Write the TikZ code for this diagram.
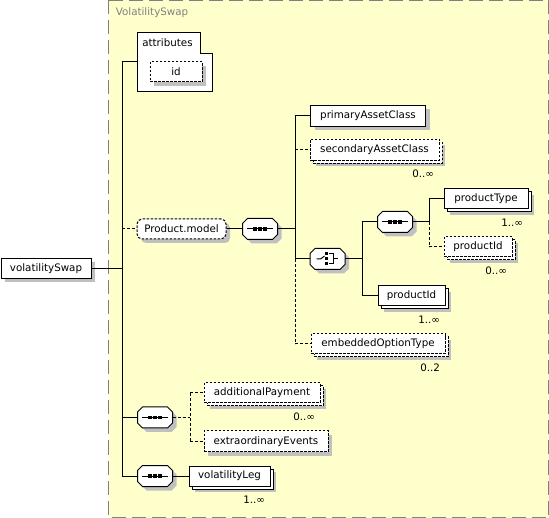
\documentclass[tikz,border=0pt]{standalone}
\usepackage{fontspec}
\setmainfont{DejaVu Sans}
\usepackage{tikz}
\usetikzlibrary{shadows}
\usetikzlibrary{calc}
\definecolor{bgyellow}{HTML}{FFFFCC}
\definecolor{framegray}{HTML}{808080}
\definecolor{shadowgray}{HTML}{C0C0C0}
\newcommand{\octpath}[1]{($(#1.north west)+(5,0)$) -- ($(#1.north east)+(-5,0)$) -- ($(#1.north east)+(0,5)$)
        -- ($(#1.south east)+(0,-5)$) -- ($(#1.south east)+(-5,0)$) -- ($(#1.south west)+(5,0)$)
        -- ($(#1.south west)+(0,-5)$) -- ($(#1.north west)+(0,5)$) -- cycle}

\begin{document}
\begin{tikzpicture}[x=1pt,y=-1pt,line width=1pt,font=\fontsize{10.3}{12}\selectfont]%%volatilitySwap

                \tikzstyle{elem}   = [rectangle, draw, fill=white, minimum height=20pt, inner sep=0pt]
                \tikzstyle{opt}    = [dash pattern=on 2.5pt off 1.5pt]
                \tikzstyle{optline}= [dash pattern=on 3pt off 2pt]
                \tikzstyle{shad}   = [drop shadow={shadow xshift=4pt, shadow yshift=-4pt, fill=shadowgray, opacity=1}]
                \tikzstyle{multi}  = [drop shadow={shadow xshift=6pt, shadow yshift=-6pt, fill=shadowgray, opacity=1},
                                      copy shadow={shadow xshift=3pt, shadow yshift=-3pt}]
                \tikzstyle{seq}    = [rectangle, minimum width=34pt, minimum height=20pt, inner sep=0pt]
                \tikzstyle{mult}   = [inner sep=0pt, anchor=east]

                \useasboundingbox (0,0) rectangle (549,518);
                \draw[framegray, line width=1pt, dash pattern=on 14pt off 6pt, fill=bgyellow] (108.5,0.5) rectangle (548.5,517.5);
                \node[text=framegray, inner sep=0pt] (title) at (152,13) {VolatilitySwap};

                % root and attributes
                \node[elem, shad, minimum width=90pt] (vs) at (46,268.5) {volatilitySwap};
                \draw[fill=white] (137,33) -- (200,33) -- (200,54) -- (212,54) -- (212,92) -- (137,92) -- cycle;
                \node[inner sep=0pt] (attr) at (167.5,43) {attributes};
                \coordinate (attrc) at (137,62);
                \node[elem, opt, shad, minimum width=52pt] (id) at (176,72) {id};

                % Product.model group
                \node[elem, opt, shad, rounded corners=5pt, minimum width=89pt] (pm) at (181.5,229) {Product.model};
                \node[seq] (seqP) at (260,229) {};
                \node[elem, shad, minimum width=115pt, minimum height=21pt] (prim) at (368,116) {primaryAssetClass};
                \node[elem, opt, multi, minimum width=129pt, minimum height=21pt] (sec) at (374.5,150) {secondaryAssetClass};
                \node[seq] (choice) at (327.5,259) {};
                \node[seq] (seqC) at (395,222) {};
                \node[elem, multi, minimum width=84pt] (ptype) at (486,199) {productType};
                \node[elem, opt, multi, minimum width=68pt] (pidO) at (478,247) {productId};
                \node[elem, multi, minimum width=67pt] (pidS) at (411.5,296) {productId};
                \node[elem, opt, multi, minimum width=134pt] (emb) at (378,344) {embeddedOptionType};

                % lower sequences
                \node[seq] (seqA) at (155,417.5) {};
                \node[elem, opt, multi, minimum width=116pt] (addP) at (262,393) {additionalPayment};
                \node[elem, opt, shad, minimum width=124pt, minimum height=21pt] (extra) at (266,441.5) {extraordinaryEvents};
                \node[seq] (seqB) at (155,476) {};
                \node[elem, multi, minimum width=81pt] (leg) at (229.5,476) {volatilityLeg};

                % compositor boxes and icons
                \foreach \s in {seqP,choice,seqC,seqA,seqB}{
                        \fill[shadowgray, transform canvas={xshift=4pt,yshift=-4pt}] \octpath{\s};
                        \filldraw[fill=white] \octpath{\s};
                }
                \foreach \s in {seqP,seqC,seqA,seqB}{
                        \draw ($(\s.center)+(-13,0)$) -- ($(\s.center)+(13,0)$);
                        \foreach \d in {-5,0,5}
                                \fill ($(\s.center)+(\d,0)$) +(-1.6,-1.6) rectangle +(1.6,1.6);
                }
                \draw ($(choice.center)+(-11,0)$) -- ++(4,0) -- ++(4,-3);
                \foreach \d in {-5,0,5}
                        \fill ($(choice.center)+(-1.5,\d)$) +(-1.5,-1.5) rectangle +(1.5,1.5);
                \draw ($(choice.center)+(1.5,-5)$) -- ++(4,0) -- ++(0,10) -- ++(-4,0);
                \draw ($(choice.center)+(5.5,0)$) -- ++(5,0);

                % connectors
                \coordinate (tA) at (122,268.5);
                \draw (vs.east) -- (tA);
                \draw (tA |- attrc) -- (tA |- seqB.west);
                \draw (tA |- attrc) -- (attrc);
                \draw[optline] (tA |- pm.west) -- (pm.west);
                \draw (tA |- seqA.west) -- (seqA.west);
                \draw (tA |- seqB.west) -- (seqB.west);

                \draw (pm.east) -- (seqP.west);
                \coordinate (tB) at (295,229);
                \draw (seqP.east) -- (tB);
                \draw (tB |- prim.west) -- (tB |- choice.west);
                \draw[optline] (tB |- choice.west) -- (tB |- emb.west);
                \draw (tB |- prim.west) -- (prim.west);
                \draw[optline] (tB |- sec.west) -- (sec.west);
                \draw (tB |- choice.west) -- (choice.west);
                \draw[optline] (tB |- emb.west) -- (emb.west);

                \coordinate (tC) at (362,259);
                \draw (choice.east) -- (tC);
                \draw (tC |- seqC.west) -- (tC |- pidS.west);
                \draw (tC |- seqC.west) -- (seqC.west);
                \draw (tC |- pidS.west) -- (pidS.west);

                \coordinate (tD) at (429,222);
                \draw (seqC.east) -- (tD);
                \draw (tD |- ptype.west) -- (tD);
                \draw[optline] (tD) -- (tD |- pidO.west);
                \draw (tD |- ptype.west) -- (ptype.west);
                \draw[optline] (tD |- pidO.west) -- (pidO.west);

                \coordinate (tE) at (190,417.5);
                \draw[optline] (seqA.east) -- (tE);
                \draw[optline] (tE |- addP.west) -- (tE |- extra.west);
                \draw[optline] (tE |- addP.west) -- (addP.west);
                \draw[optline] (tE |- extra.west) -- (extra.west);
                \draw (seqB.east) -- (leg.west);

                % occurrences
                \foreach \n/\m in {sec/0..∞,ptype/1..∞,pidO/0..∞,pidS/1..∞,emb/0..2,addP/0..∞,leg/1..∞}
                        \node[mult] (m\n) at ($(\n.south east)+(-5,13)$) {\m};
\end{tikzpicture}
\end{document}
